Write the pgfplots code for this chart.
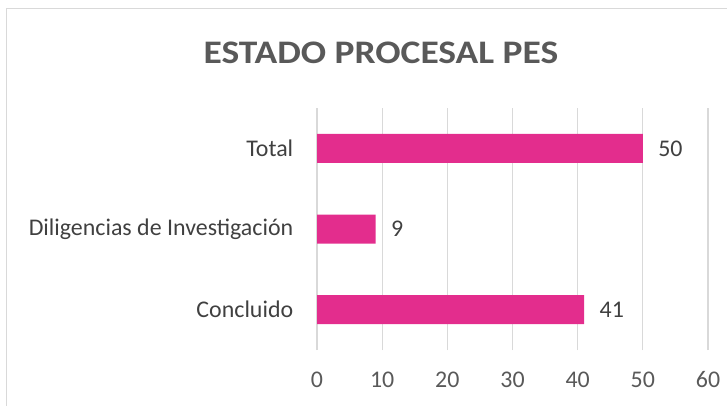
\documentclass[border=0pt]{standalone}
\usepackage{fontspec}
\setmainfont{Carlito}
\usepackage{pgfplots}
\pgfplotsset{compat=1.18}
\definecolor{barpink}{HTML}{E32D8D}
\definecolor{gridgray}{HTML}{D9D9D9}
\definecolor{txtgray}{HTML}{595959}
\begin{document}
\begin{tikzpicture}[x=1bp,y=1bp]
\useasboundingbox (0,0) rectangle (727,405);
\draw[gridgray,line width=1bp] (6,-10) rectangle (740,396);
\node[text=txtgray,font=\bfseries\fontsize{33}{38}\selectfont,anchor=base,xscale=1.14,inner sep=0pt] at (381,342) {ESTADO PROCESAL PES};
\begin{axis}[
  at={(317bp,55bp)}, anchor=south west,
  scale only axis, width=391bp, height=242bp,
  xbar, bar width=29bp,
  xmin=0, xmax=60, ymin=-0.5, ymax=2.5,
  xtick={0,10,...,60},
  ytick={0,1,2},
  yticklabels={Concluido,Diligencias de Investigación,Total},
  axis line style={draw=none},
  tick style={draw=none},
  xmajorgrids, major grid style={gridgray,line width=1.2bp},
  ticklabel style={text=txtgray,font=\fontsize{24}{28}\selectfont},
  /pgf/number format/assume math mode=true,
  xticklabel style={yshift=-18bp},
  yticklabel style={xshift=-16bp,text=black!75},
  nodes near coords,
  nodes near coords style={text=black!75,font=\fontsize{24}{28}\selectfont,xshift=12bp},
  clip=false,
]
\addplot[fill=barpink,draw=none] coordinates {(41,0) (9,1) (50,2)};
\end{axis}
\end{tikzpicture}
\end{document}
